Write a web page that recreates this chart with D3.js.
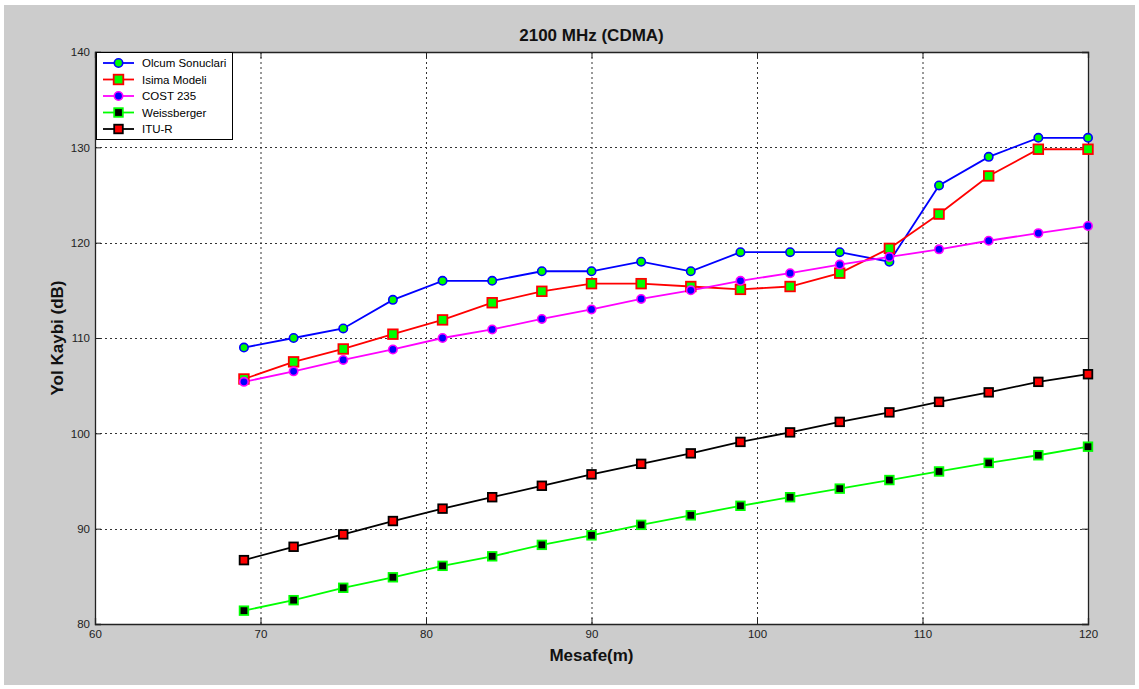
<!DOCTYPE html>
<html><head><meta charset="utf-8">
<script src="https://cdn.jsdelivr.net/npm/d3@7"></script>
<style>body{margin:0;background:#fff}svg{display:block}</style>
</head><body><svg id="c" width="1139" height="689"></svg>
<script>
const distances = [69,72,75,78,81,84,87,90,93,96,99,102,105,108,111,114,117,120];
const olcum = [109,110,111,114,116,116,117,117,118,117,119,119,119,118,126,129,131,131];
const isima = [105.7,107.5,108.85,110.4,111.9,113.7,114.9,115.7,115.7,115.4,115.1,115.4,116.8,119.4,123.0,127.0,129.8,129.8];
const cost235 = [105.4,106.5,107.7,108.8,110,110.9,112,113,114.1,115,116,116.8,117.7,118.5,119.3,120.2,121.0,121.75];
const weiss = [81.4,82.5,83.8,84.9,86.1,87.1,88.3,89.3,90.4,91.4,92.4,93.3,94.2,95.1,96.0,96.9,97.7,98.6];
const itur = [86.7,88.1,89.4,90.8,92.1,93.3,94.5,95.7,96.8,97.9,99.1,100.1,101.2,102.2,103.3,104.3,105.4,106.2];
const xTicks = [60,70,80,90,100,110,120];
const yTicks = [80,90,100,110,120,130,140];
const seriesNames = ["Olcum Sonuclari","Isima Modeli","COST 235","Weissberger","ITU-R"];

const series = [
  {name:seriesNames[0], values:olcum, line:"#0000ff", shape:"circle", fill:"#00ff00", stroke:"#0000ff"},
  {name:seriesNames[1], values:isima, line:"#ff0000", shape:"square", fill:"#00ff00", stroke:"#ff0000"},
  {name:seriesNames[2], values:cost235, line:"#ff00ff", shape:"circle", fill:"#0000ff", stroke:"#ff00ff"},
  {name:seriesNames[3], values:weiss, line:"#00ff00", shape:"square", fill:"#000000", stroke:"#00ff00"},
  {name:seriesNames[4], values:itur, line:"#000000", shape:"square", fill:"#ff0000", stroke:"#000000"}
];

const svg = d3.select("#c");
svg.append("rect").attr("x",4).attr("y",5).attr("width",1131).attr("height",680).attr("fill","#cccccc");

const L=95, R=1088, T=52, B=624;
const x = d3.scaleLinear().domain([60,120]).range([L,R]);
const y = d3.scaleLinear().domain([80,140]).range([B,T]);

svg.append("rect").attr("x",L).attr("y",T).attr("width",R-L).attr("height",B-T).attr("fill","#fff");

// grid
const g = svg.append("g");
g.selectAll(".gx").data(xTicks.slice(1,-1)).join("line")
  .attr("x1",d=>x(d)+0.5).attr("x2",d=>x(d)+0.5).attr("y1",T).attr("y2",B)
  .attr("stroke","#333").attr("stroke-width",1).attr("stroke-dasharray","2,3");
g.selectAll(".gy").data(yTicks.slice(1,-1)).join("line")
  .attr("y1",d=>Math.round(y(d))+0.5).attr("y2",d=>Math.round(y(d))+0.5).attr("x1",L).attr("x2",R)
  .attr("stroke","#333").attr("stroke-width",1).attr("stroke-dasharray","2,3");

// axes
const font = "Arial, 'Liberation Sans', sans-serif";
const xAxis = svg.append("g").attr("transform",`translate(0,${B})`)
  .call(d3.axisBottom(x).tickValues(xTicks).tickSize(-6).tickPadding(6));
const xAxisTop = svg.append("g").attr("transform",`translate(0,${T})`)
  .call(d3.axisTop(x).tickValues(xTicks).tickSize(-6).tickFormat(""));
const yAxis = svg.append("g").attr("transform",`translate(${L},0)`)
  .call(d3.axisLeft(y).tickValues(yTicks).tickSize(-6).tickPadding(5));
const yAxisR = svg.append("g").attr("transform",`translate(${R},0)`)
  .call(d3.axisRight(y).tickValues(yTicks).tickSize(-6).tickFormat(""));
[xAxis,xAxisTop,yAxis,yAxisR].forEach(a=>{
  a.selectAll("path").attr("stroke","#222").attr("stroke-width",1.3);
  a.selectAll("line").attr("stroke","#222");
  a.selectAll("text").attr("font-family",font).attr("font-size",11.5).attr("fill","#222");
});

// lines
const lineGen = (vals)=>d3.line().x((d,i)=>x(distances[i])).y(d=>y(d))(vals);
series.forEach(s=>{
  svg.append("path").attr("d",lineGen(s.values)).attr("fill","none")
    .attr("stroke",s.line).attr("stroke-width",1.8);
});
function drawMarker(sel, s, cx, cy){
  if(s.shape==="circle"){
    sel.append("circle").attr("cx",cx).attr("cy",cy).attr("r",4.2)
      .attr("fill",s.fill).attr("stroke",s.stroke).attr("stroke-width",1.6);
  } else {
    const h = s.name==="Isima Modeli"?4.8:4.3;
    sel.append("rect").attr("x",cx-h).attr("y",cy-h).attr("width",2*h).attr("height",2*h)
      .attr("fill",s.fill).attr("stroke",s.stroke).attr("stroke-width",1.8);
  }
}
series.forEach(s=>{
  const mg = svg.append("g");
  s.values.forEach((v,i)=>drawMarker(mg,s,x(distances[i]),y(v)));
});

// legend
const lg = svg.append("g");
lg.append("rect").attr("x",96.5).attr("y",52.5).attr("width",136).attr("height",87)
  .attr("fill","#fff").attr("stroke","#000").attr("stroke-width",1);
series.forEach((s,i)=>{
  const ly = 63 + i*16.5;
  lg.append("line").attr("x1",103).attr("x2",134).attr("y1",ly).attr("y2",ly)
    .attr("stroke",s.line).attr("stroke-width",1.8);
  drawMarker(lg,s,118.5,ly);
  lg.append("text").attr("x",142).attr("y",ly+4).text(s.name)
    .attr("font-family",font).attr("font-size",11.5).attr("fill","#000");
});

// titles
svg.append("text").attr("x",(L+R)/2).attr("y",41).attr("text-anchor","middle")
  .attr("font-family",font).attr("font-weight","bold").attr("font-size",17).attr("fill","#111")
  .text("2100 MHz (CDMA)");
svg.append("text").attr("x",(L+R)/2).attr("y",661).attr("text-anchor","middle")
  .attr("font-family",font).attr("font-weight","bold").attr("font-size",17).attr("fill","#111")
  .text("Mesafe(m)");
svg.append("text").attr("transform",`translate(63,${(T+B)/2}) rotate(-90)`).attr("text-anchor","middle")
  .attr("font-family",font).attr("font-weight","bold").attr("font-size",17).attr("fill","#111")
  .text("Yol Kaybi (dB)");
</script></body></html>
